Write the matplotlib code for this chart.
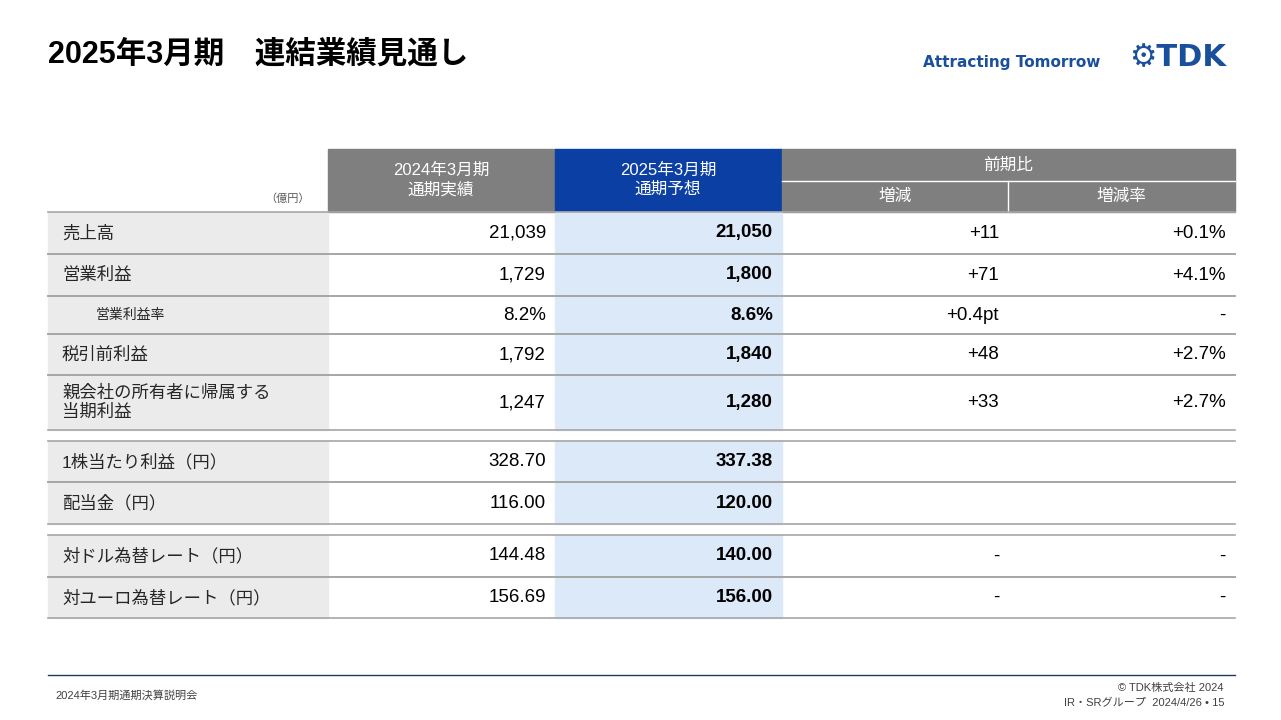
import matplotlib.pyplot as plt
from matplotlib.patches import Rectangle

plt.rcParams['font.family'] = ['Liberation Sans', 'Noto Sans CJK JP']

# データ
row_labels = ["売上高", "営業利益", "営業利益率", "税引前利益", "親会社の所有者に帰属する\n当期利益",
              "1株当たり利益（円）", "配当金（円）", "対ドル為替レート（円）", "対ユーロ為替レート（円）"]
actual_2024 = ["21,039", "1,729", "8.2%", "1,792", "1,247", "328.70", "116.00", "144.48", "156.69"]
forecast_2025 = ["21,050", "1,800", "8.6%", "1,840", "1,280", "337.38", "120.00", "140.00", "156.00"]
change = ["+11", "+71", "+0.4pt", "+48", "+33", "", "", "-", "-"]
change_rate = ["+0.1%", "+4.1%", "-", "+2.7%", "+2.7%", "", "", "-", "-"]

# 行の位置 (上端, 下端)
rows = [(212, 254), (254, 296), (296, 334), (334, 375), (375, 430),
        (441, 482), (482, 524), (535, 577), (577, 618)]

fig = plt.figure(figsize=(12.81, 7.2), dpi=100)
ax = fig.add_axes([0, 0, 1, 1])
ax.set_xlim(0, 1281)
ax.set_ylim(720, 0)
ax.axis('off')

# タイトル
ax.text(48, 55, "2025年3月期　連結業績見通し", fontsize=22, fontweight='bold', va='center')
ax.text(1012, 63, "Attracting Tomorrow", fontsize=11, fontweight='bold', color='#1a4f9c',
        va='center', ha='center', family='DejaVu Sans')
ax.text(1178, 58, "⚙TDK", fontsize=22, fontweight='bold', color='#1a4f9c',
        va='center', ha='center', family='DejaVu Sans')

# ヘッダー
ax.add_patch(Rectangle((328, 149), 227, 63, color='#7f7f7f'))
ax.add_patch(Rectangle((555, 149), 227, 63, color='#0b3fa3'))
ax.add_patch(Rectangle((782, 149), 453, 63, color='#7f7f7f'))
ax.plot([782, 1235], [181, 181], color='white', lw=1)
ax.plot([1008, 1008], [181, 212], color='white', lw=1)
ax.text(441, 180, "2024年3月期\n通期実績", color='white', fontsize=12, ha='center', va='center',
        linespacing=1.3)
ax.text(668, 180, "2025年3月期\n通期予想", color='white', fontsize=12, ha='center', va='center',
        linespacing=1.3)
ax.text(1008, 165, "前期比", color='white', fontsize=12, ha='center', va='center')
ax.text(895, 196, "増減", color='white', fontsize=12, ha='center', va='center')
ax.text(1121, 196, "増減率", color='white', fontsize=12, ha='center', va='center')
ax.text(310, 199, "（億円）", fontsize=8, color='#595959', ha='right', va='center')

# 本体
for i, (top, bot) in enumerate(rows):
    ax.add_patch(Rectangle((48, top), 280, bot - top, color='#ebebeb'))
    ax.add_patch(Rectangle((555, top), 227, bot - top, color='#dce9f8'))
    ax.plot([48, 1235], [top, top], color='#a6a6a6', lw=1.2)
    ax.plot([48, 1235], [bot, bot], color='#a6a6a6', lw=1.2)
    yc = (top + bot) / 2
    small = row_labels[i] == "営業利益率"
    ax.text(96 if small else 62, yc, row_labels[i], fontsize=10 if small else 12.5, va='center',
            color='#262626', linespacing=1.25)
    ax.text(546, yc, actual_2024[i], fontsize=13.5, ha='right', va='center')
    ax.text(773, yc, forecast_2025[i], fontsize=13.5, ha='right', va='center', fontweight='bold')
    ax.text(999, yc, change[i], fontsize=13.5, ha='right', va='center')
    ax.text(1226, yc, change_rate[i], fontsize=13.5, ha='right', va='center')

# フッター
ax.plot([48, 1235], [675, 675], color='#1f3864', lw=1)
ax.text(55, 695, "2024年3月期通期決算説明会", fontsize=8, color='#404040', va='center')
ax.text(1224, 688, "© TDK株式会社 2024", fontsize=8, color='#404040', ha='right', va='center')
ax.text(1224, 703, "IR・SRグループ  2024/4/26 • 15", fontsize=8, color='#404040', ha='right', va='center')

fig.savefig("out.png", dpi=100)
